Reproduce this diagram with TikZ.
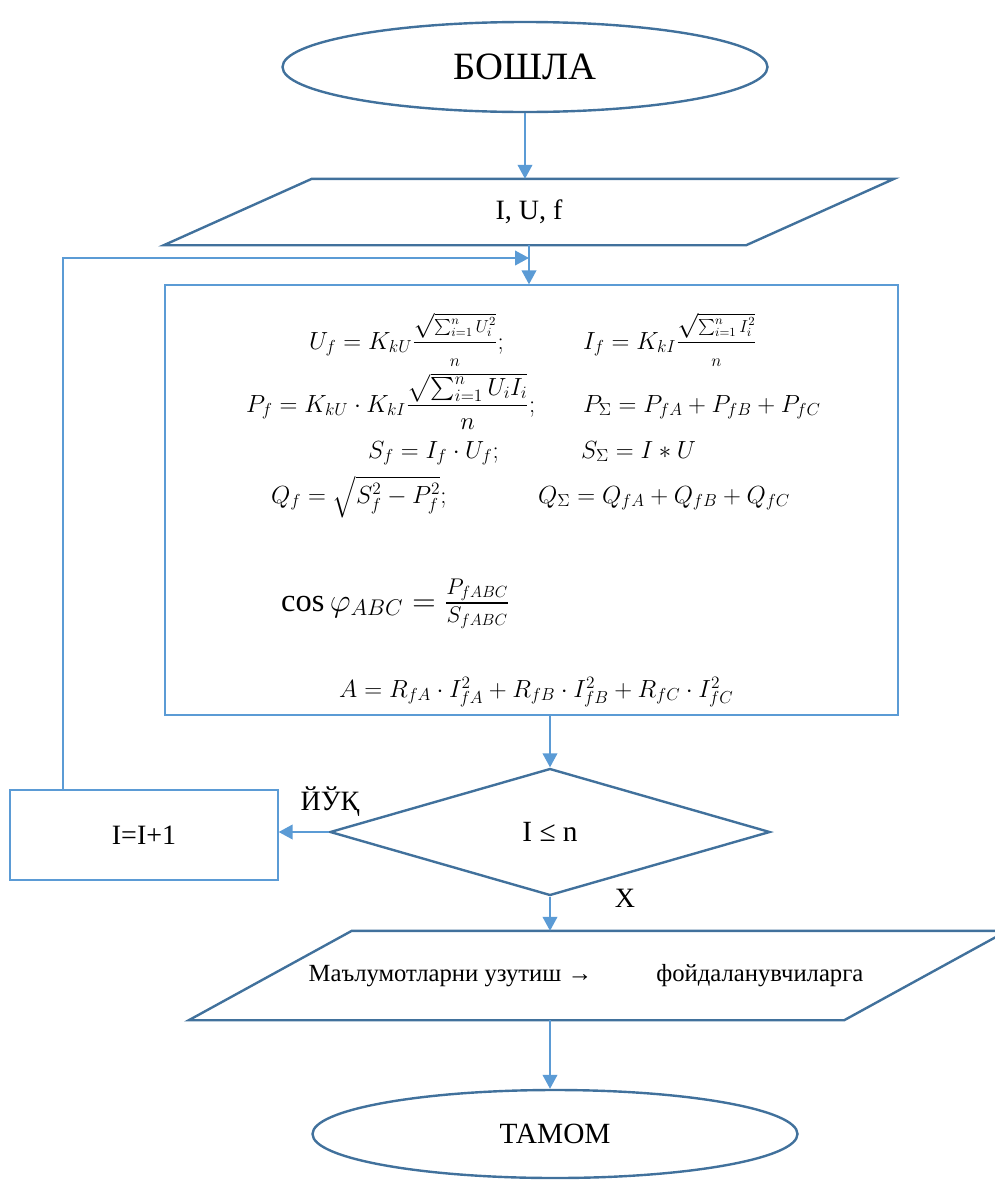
\RequirePackage{fix-cm}
\documentclass[tikz,border=0pt]{standalone}
\usepackage{fontspec}
\setmainfont{Liberation Serif}
\usepackage{amsmath}
\usetikzlibrary{arrows.meta,shapes.geometric,calc}
\definecolor{borde}{HTML}{41719C}
\definecolor{flecha}{HTML}{5B9BD5}

\begin{document}
\begin{tikzpicture}[x=0.75pt,y=-0.75pt,line width=1.8pt,>={Triangle[length=10.5pt,width=11pt]},
  terminal/.style={ellipse,draw=borde,minimum width=363.75pt,inner sep=0pt},
  datos/.style={rectangle,inner sep=0pt},
  contorno/.style={draw=borde,line join=miter},
  caja/.style={rectangle,draw=flecha,line width=1pt,inner sep=0pt},
  flujo/.style={->,draw=flecha,line width=1.4pt},
  formula/.style={anchor=base west,inner sep=0pt,font=\fontsize{18.6}{22}\selectfont}]
  \useasboundingbox (0,0) rectangle (995,1182);
  % bloques del algoritmo
  \node[terminal,minimum height=67.5pt,font=\fontsize{29}{34}\selectfont] (inicio) at (525,67) {БОШЛА};
  \node[datos,minimum width=435pt,minimum height=48pt,font=\fontsize{21}{25}\selectfont] (entrada) at (529,212) {I, U, f};
  \draw[contorno] ($(entrada.north west)+(74,0)$) -- ($(entrada.north east)+(74,0)$)
    -- ($(entrada.south east)+(-74,0)$) -- ($(entrada.south west)+(-74,0)$) -- cycle;
  \node[caja,minimum width=549.75pt,minimum height=322.5pt] (calculo) at (531.5,500) {};
  \node[diamond,draw=borde,minimum width=330pt,minimum height=95.25pt,inner sep=0pt,
    font=\fontsize{22}{26}\selectfont] (cond) at (550,832) {I ≤ n};
  \node[caja,minimum width=201pt,minimum height=67.5pt,font=\fontsize{21}{25}\selectfont] (incr) at (144,835) {I=I+1};
  \node[datos,minimum width=489.75pt,minimum height=65.25pt,font=\fontsize{18.5}{22}\selectfont] (salida) at (586,975.5)
    {Маълумотларни узутиш →\hspace{2.6em}фойдаланувчиларга};
  \draw[contorno] ($(salida.north west)+(93.5,0)$) -- ($(salida.north east)+(93.5,0)$)
    -- ($(salida.south east)+(-69.5,0)$) -- ($(salida.south west)+(-69.5,0)$) -- cycle;
  \node[terminal,minimum height=66pt,font=\fontsize{22}{26}\selectfont] (fin) at (555,1134) {ТАМОМ};
  % formulas dentro del bloque de calculo
  \node[formula] (uf) at (308,349) {$U_f = K_{kU}\dfrac{\sqrt{\scriptstyle\sum_{i=1}^{n}U_i^2}}{\scriptstyle n};$};
  \node[formula] (if) at (582,349) {$I_f = K_{kI}\dfrac{\sqrt{\scriptstyle\sum_{i=1}^{n}I_i^2}}{\scriptstyle n}$};
  \node[formula] (pf) at (245,412) {$P_f = K_{kU}\cdot K_{kI}\dfrac{\sqrt{\sum_{i=1}^{n}U_iI_i}}{n};$};
  \node[formula] (ps) at (582,412) {$P_\Sigma = P_{fA}+P_{fB}+P_{fC}$};
  \node[formula] (sf) at (367,458) {$S_f = I_f\cdot U_f;$};
  \node[formula] (ss) at (580,458) {$S_\Sigma = I*U$};
  \node[formula] (qf) at (270,503) {$Q_f = \sqrt{S_f^2-P_f^2};$};
  \node[formula] (qs) at (537,503) {$Q_\Sigma = Q_{fA}+Q_{fB}+Q_{fC}$};
  \node[formula,font=\fontsize{24.3}{29}\selectfont] (cosfi) at (280,611) {$\cos\varphi_{ABC}=\frac{P_{fABC}}{S_{fABC}}$};
  \node[formula] (en) at (338,697) {$A=R_{fA}\cdot I_{fA}^2+R_{fB}\cdot I_{fB}^2+R_{fC}\cdot I_{fC}^2$};
  % etiquetas de la condicion
  \node[font=\fontsize{21}{25}\selectfont] (no) at (330,802) {ЙЎҚ};
  \node[font=\fontsize{21}{25}\selectfont] (si) at (625,898) {Х};
  % conexiones
  \coordinate (union) at (529,258);
  \draw[flujo] (inicio.south) -- (inicio.south |- entrada.north);
  \draw[flujo] (entrada.south) -- (entrada.south |- calculo.north);
  \draw[flujo] ($(incr.north west)!0.2!(incr.north east)$) |- (union);
  \draw[flujo] (cond.north |- calculo.south) -- (cond.north);
  \draw[flujo] (cond.west) -- (cond.west -| incr.east);
  \draw[flujo] (cond.south) -- (cond.south |- salida.north);
  \draw[flujo] (cond.south |- salida.south) -- (cond.south |- fin.north);
\end{tikzpicture}
\end{document}
